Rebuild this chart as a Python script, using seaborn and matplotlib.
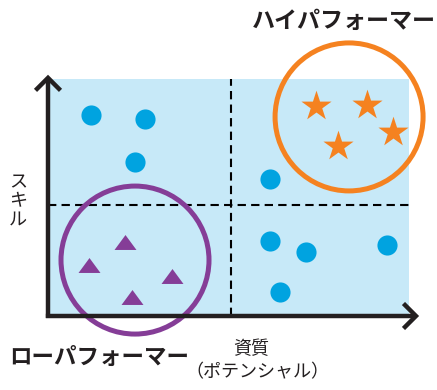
"""
タレントマップ: 資質（ポテンシャル） x スキル
"""

import numpy as np
import matplotlib
matplotlib.use("Agg")
import matplotlib.pyplot as plt
from matplotlib.path import Path
import seaborn as sns

# データ (0-10 スケール)
others_x = [1.19, 2.69, 2.41, 6.15, 6.15, 7.15, 9.39, 6.43]
others_y = [8.48, 8.31, 6.50, 5.78, 3.16, 2.70, 3.00, 1.01]

high_x = [7.42, 8.84, 9.56, 8.03]
high_y = [8.86, 8.90, 7.76, 7.17]

low_x = [2.13, 1.14, 3.43, 2.33]
low_y = [3.12, 2.15, 1.69, 0.80]

# グループの中心
group_x = [8.34, 2.41]
group_y = [8.40, 2.36]

split_x = 5.07
split_y = 4.70

label_high = "ハイパフォーマー"
label_low = "ローパフォーマー"
xlabel = "資質"
xlabel_sub = "（ポテンシャル）"
ylabel = "スキル"

BLUE = "#00A3E0"
ORANGE = "#F58220"
PURPLE = "#853D97"
BG = "#C7E9F8"
INK = "#231F20"


def main():
    sns.set_style("white")
    plt.rcParams["font.family"] = ["Noto Sans CJK JP", "DejaVu Sans"]

    W, H = 437, 390
    fig = plt.figure(figsize=(W / 100, H / 100), dpi=100)
    ax = fig.add_axes([48 / W, (H - 316) / H, (409 - 48) / W, (316 - 79) / H])
    ax.set_xlim(0, 10)
    ax.set_ylim(0, 10)
    ax.set_facecolor(BG)
    for s in ax.spines.values():
        s.set_visible(False)
    ax.set_xticks([])
    ax.set_yticks([])

    # 区切り線
    ax.axvline(split_x, color="black", lw=1.5, dashes=(4, 2.5))
    ax.axhline(split_y, color="black", lw=1.5, dashes=(4, 2.5))

    # 点
    tri = Path([(-1, -0.68), (1, -0.68), (0, 0.68), (-1, -0.68)],
               [Path.MOVETO, Path.LINETO, Path.LINETO, Path.CLOSEPOLY])
    sns.scatterplot(x=others_x, y=others_y, ax=ax, color=BLUE, s=210,
                    marker="o", linewidth=0, zorder=3)
    sns.scatterplot(x=high_x, y=high_y, ax=ax, color=ORANGE, s=520,
                    marker="*", linewidth=0, zorder=3)
    sns.scatterplot(x=low_x, y=low_y, ax=ax, color=PURPLE, s=250,
                    marker=tri, linewidth=0, zorder=3)

    # グループの円
    ax.scatter(group_x, group_y, s=(148 * 0.72) ** 2, marker="o",
               facecolors="none", edgecolors=[ORANGE, PURPLE],
               linewidths=3.6, clip_on=False, zorder=4)

    # 軸の矢印
    arrow = dict(arrowstyle="->, head_length=0.45, head_width=0.45",
                 lw=3.2, color=INK, mutation_scale=20, shrinkA=0, shrinkB=0,
                 joinstyle="miter", capstyle="butt")
    ax.annotate("", xy=(1.028, 0), xytext=(-0.006, 0), xycoords="axes fraction",
                arrowprops=arrow, annotation_clip=False, zorder=5)
    ax.annotate("", xy=(0, 1.018), xytext=(0, -0.008), xycoords="axes fraction",
                arrowprops=arrow, annotation_clip=False, zorder=5)

    # テキスト
    fig.text(436 / W, 1 - 21 / H, label_high, fontsize=16.6, fontweight="bold",
             color=INK, ha="right", va="center")
    fig.text(9 / W, 1 - 357 / H, label_low, fontsize=16.2, fontweight="bold",
             color=INK, ha="left", va="center")
    fig.text(251 / W, 1 - 349 / H, xlabel, fontsize=13, color=INK,
             ha="center", va="center")
    fig.text(257 / W, 1 - 372 / H, xlabel_sub, fontsize=13, color=INK,
             ha="center", va="center")
    fig.text(18 / W, 1 - 201 / H, "\n".join(ylabel), fontsize=13, color=INK,
             ha="center", va="center", linespacing=1.05)

    fig.savefig("out.png", dpi=100)
    plt.close(fig)


if __name__ == "__main__":
    main()
